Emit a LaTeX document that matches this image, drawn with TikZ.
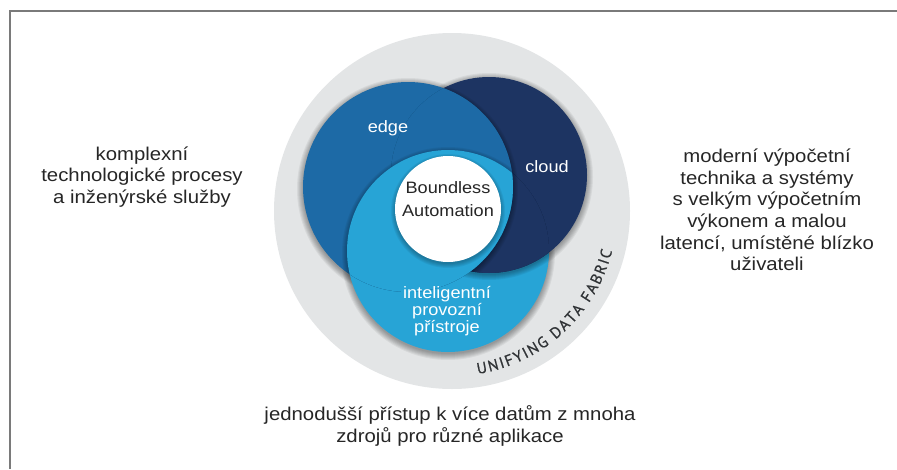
\documentclass[tikz,border=0pt]{standalone}
\usepackage{fontspec}
\setmainfont{Liberation Sans}[FakeStretch=1.1]
\newfontfamily\arcfont{PT Sans}[FakeBold=0.8]
\usetikzlibrary{decorations.text}
\definecolor{edgeblue}{HTML}{1D6AA6}
\definecolor{cloudblue}{HTML}{1D3462}
\definecolor{lightblue}{HTML}{27A4D6}
\definecolor{ringgray}{HTML}{E3E5E6}
\definecolor{txt}{HTML}{262626}
\definecolor{arctxt}{HTML}{303336}
\definecolor{framegray}{HTML}{7A7A7A}
% soft shadow: stacked translucent disks (x, y, radius, spread)
\newcommand\mysoftshadow[4]{%
  \foreach \k in {0,...,#4} {%
    \fill[black, opacity=0.055] (#1,#2+2) circle[radius={(#3+#4-\k)*1pt}];
  }%
}
\begin{document}
\begin{tikzpicture}[x=1pt,y=-1pt,
  sidetext/.style={align=center, font=\fontsize{18.5}{21.7}\selectfont, text=txt, inner sep=0pt},
  intext/.style={align=center, font=\fontsize{16.5}{22.5}\selectfont, inner sep=0pt},
  intextb/.style={align=center, font=\fontsize{16.5}{16.8}\selectfont, text=white, inner sep=0pt},
]
\useasboundingbox (0,0) rectangle (897,469);
\draw[framegray, line width=1.3pt] (897,11) -- (10,11) -- (10,469);
% ring
\fill[ringgray] (452,211) circle[radius=178pt];
% shadows of the cluster on the ring
\mysoftshadow{448}{251}{101}{6}
\mysoftshadow{489}{175}{98}{6}
\mysoftshadow{408}{187}{105}{6}
% swirl circles
\fill[lightblue] (448,251) circle[radius=101pt];
\fill[cloudblue] (489,175) circle[radius=98pt];
\begin{scope}
  \clip (448,251) circle[radius=101pt];
  \mysoftshadow{489}{175}{98}{5}
  \fill[cloudblue] (489,175) circle[radius=98pt];
\end{scope}
\fill[edgeblue] (408,187) circle[radius=105pt];
\begin{scope}
  \clip (489,175) circle[radius=98pt];
  \mysoftshadow{408}{187}{105}{5}
  \fill[edgeblue] (408,187) circle[radius=105pt];
\end{scope}
\begin{scope}
  \clip (408,187) circle[radius=105pt];
  \mysoftshadow{448}{251}{101}{5}
  \fill[lightblue] (448,251) circle[radius=101pt];
\end{scope}
\mysoftshadow{448}{209}{53}{4}
\fill[white] (448,209) circle[radius=53pt];
% curved label
\path[decorate, font=\arcfont\fontsize{15.5}{16}\selectfont,
  decoration={text along path,
    text={|\arcfont\fontsize{15.5}{16}\selectfont\color{arctxt}|UNIFYING DATA FABRIC},
    text align={fit to path}}]
  (452,211) ++(-81:165pt) arc[start angle=-81, end angle=-14, radius=165pt];
% inner labels
\node[intext, text=white] (edge) at (388,128) {edge};
\node[intext, text=white] (cloud) at (547,167) {cloud};
\node[intext, text=txt] (core) at (448,199) {Boundless\\Automation};
\node[intextb] (devices) at (447,311) {inteligentní\\provozní\\přístroje};
% side texts
\node[sidetext] (left) at (142,177) {komplexní\\technologické procesy\\a inženýrské služby};
\node[sidetext] (right) at (767,210) {moderní výpočetní\\technika a systémy\\s velkým výpočetním\\výkonem a malou\\latencí, umístěné blízko\\uživateli};
\node[sidetext] (bottom) at (450,426) {jednodušší přístup k více datům z mnoha\\zdrojů pro různé aplikace};
\end{tikzpicture}
\end{document}
